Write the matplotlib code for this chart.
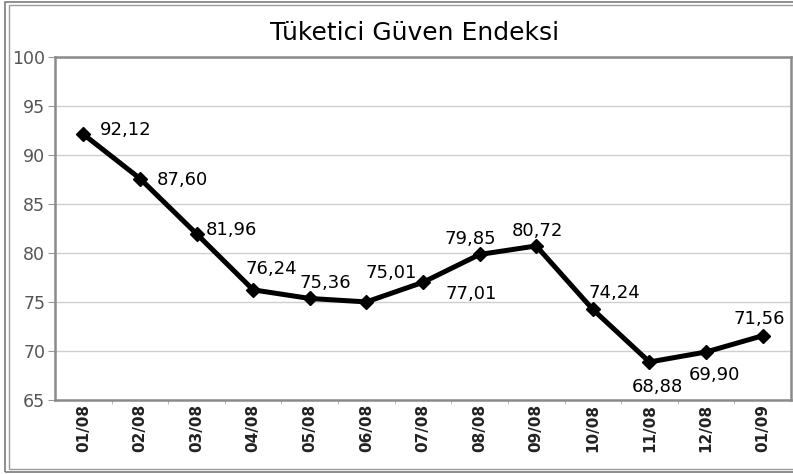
import matplotlib
matplotlib.use('Agg')
import matplotlib.pyplot as plt
from matplotlib.patches import Rectangle

# data
months = ['01/08', '02/08', '03/08', '04/08', '05/08', '06/08', '07/08',
          '08/08', '09/08', '10/08', '11/08', '12/08', '01/09']
index_vals = [92.12, 87.60, 81.96, 76.24, 75.36, 75.01, 77.01,
              79.85, 80.72, 74.24, 68.88, 69.90, 71.56]

# label offsets in pixels (left edge, vertical centre) relative to each point
label_offsets = [(17, 4), (17, -1), (9, 4), (-8, 21), (-10, 15), (-1, 29),
                 (22, -12), (-35, 15), (-24, 15), (-4, 16), (-18, -25),
                 (-17, -23), (-29, 17)]

fig = plt.figure(figsize=(7.93, 4.74), dpi=100)
ax = fig.add_axes([55/793, 1-400/474, 736/793, 343/474])

x = list(range(len(months)))
ax.plot(x, index_vals, color='black', lw=3.6, marker='D', ms=7.5,
        solid_joinstyle='round', zorder=3)

for xi, v, (dx, dy) in zip(x, index_vals, label_offsets):
    ax.annotate(f'{v:.2f}'.replace('.', ','), (xi, v), xytext=(dx, dy),
                textcoords='offset pixels', ha='left', va='center',
                fontsize=13, color='black', zorder=4)

ax.set_xlim(-0.5, len(months) - 0.5)
ax.set_ylim(65, 100)
ax.set_yticks(range(65, 101, 5))
ax.yaxis.grid(True, color='#cfcfcf', lw=1)
ax.set_axisbelow(True)

ax.set_xticks(x)
ax.set_xticklabels(months, rotation=90, fontsize=11, fontweight='bold', color='#222222')
ax.tick_params(axis='x', length=0, pad=3)
ax.set_xticks([i + 0.5 for i in x[:-1]], minor=True)
ax.tick_params(axis='x', which='minor', length=3, color='#aaaaaa')
ax.tick_params(axis='y', labelsize=12.5, labelcolor='#555555', length=5,
               color='#999999', pad=2)

for side in ['left', 'bottom', 'top', 'right']:
    ax.spines[side].set_color('#8a8a8a')
    ax.spines[side].set_linewidth(1.8)

fig.text(0.523, 0.93, 'Tüketici Güven Endeksi', ha='center', va='center',
         fontsize=18, color='black')

# double outer border
fig.patches.append(Rectangle((5/793, 2/474), 800/793, 470/474, transform=fig.transFigure,
                             fill=False, ec='#7a7a7a', lw=1.2))
fig.patches.append(Rectangle((8.5/793, 5/474), 800/793, 464/474, transform=fig.transFigure,
                             fill=False, ec='#9a9a9a', lw=1.0))

fig.savefig('out.png', dpi=100)
